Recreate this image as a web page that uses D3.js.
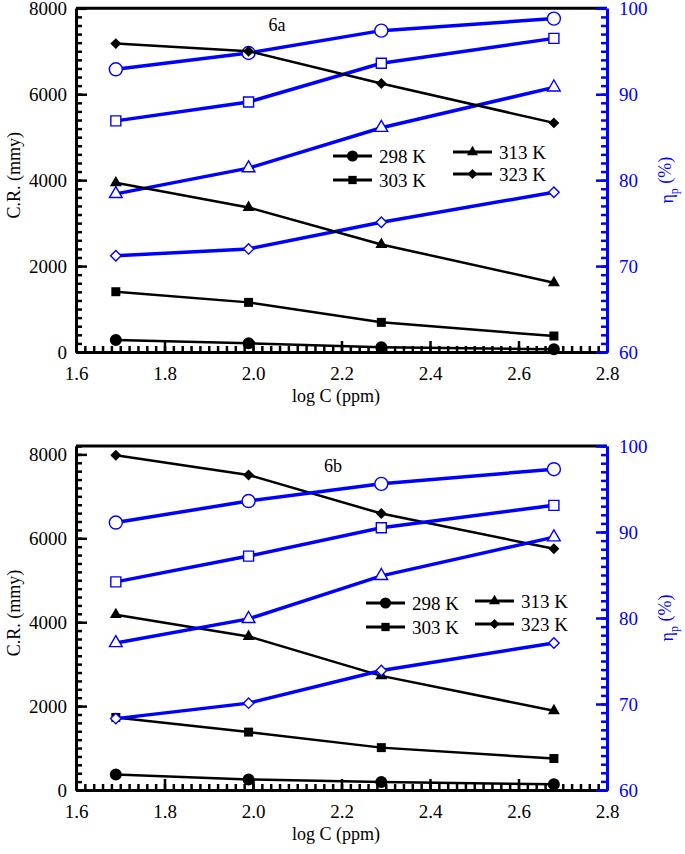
<!DOCTYPE html>
<head>
  <meta charset="utf-8">
  <style>
    body { margin: 0; background: #fff; }
    svg { display: block; }
    svg text { font-family: "Liberation Serif", "Times New Roman", "DejaVu Serif", serif !important; }
    .cr-line { fill: none; stroke: black; stroke-width: 2.5px; }
    .eta-line { fill: none; stroke: #0000ff; stroke-width: 3.5px; }
    .blk path, .blk line { stroke: black; }
    .blu path, .blu line { stroke: #0000ff; }
    .domain { stroke-width: 3px; }
    .tick line { stroke-width: 2.5px; }
    .tick text { font-size: 19px; }
  </style>
</head>

<body>
  <svg width="685" height="854"></svg>
  <script src="https://d3js.org/d3.v7.min.js"></script>
  <script type="text/javascript">
    // x positions of the points (log C)
    const logC = [1.69, 1.99, 2.29, 2.68];
    const temps = ["298 K", "303 K", "313 K", "323 K"];

    // 6a : corrosion rate (mmy) and efficiency (%), one row per temperature
    const crA = [
      [279, 202, 108, 62],
      [1403, 1155, 690, 372],
      [3938, 3364, 2504, 1612],
      [7178, 7000, 6248, 5333]
    ];
    const etaA = [
      [92.9, 94.8, 97.4, 98.8],
      [86.9, 89.1, 93.6, 96.5],
      [78.4, 81.4, 86.1, 90.8],
      [71.2, 72.0, 75.1, 78.6]
    ];

    // 6b
    const crB = [
      [370, 250, 190, 135],
      [1730, 1380, 1010, 750],
      [4180, 3660, 2720, 1890],
      [7980, 7510, 6590, 5750]
    ];
    const etaB = [
      [91.1, 93.6, 95.6, 97.3],
      [84.2, 87.2, 90.5, 93.1],
      [77.1, 79.9, 84.9, 89.4],
      [68.3, 70.1, 73.9, 77.1]
    ];

    const xTicks = [1.6, 1.8, 2.0, 2.2, 2.4, 2.6, 2.8];
    const crTicks = [0, 2000, 4000, 6000, 8000];
    const etaTicks = [60, 70, 80, 90, 100];

    const blue = '#0000ff';
    const serif = '"Liberation Serif", "Times New Roman", serif';
    const svg = d3.select('svg');

    // square diamond (equal diagonals)
    const diamond = {
      draw: function(ctx, size) {
        let r = Math.sqrt(size / 2);
        ctx.moveTo(0, -r); ctx.lineTo(r, 0); ctx.lineTo(0, r); ctx.lineTo(-r, 0); ctx.closePath();
      }
    };
    const shapes = [d3.symbolCircle, d3.symbolSquare, d3.symbolTriangle, diamond];
    const fillSizes = [113, 81, 62, 60];
    const openSizes = [133, 100, 70, 55];

    function fixFont(a) {
      a.attr('font-family', serif);
      a.selectAll('text').attr('font-family', serif);
    }

    function drawPanel(p) {
      let g = svg.append('g');
      let x = d3.scaleLinear().domain([1.6, 2.8]).range([76, 607]);
      let yL = d3.scaleLinear().domain([0, p.crMax]).range([p.bottom, p.top]);
      let yR = d3.scaleLinear().domain([60, 100]).range([p.bottom, p.top]);

      // top frame
      g.append('line')
        .attr('x1', x(1.6)).attr('x2', x(2.8))
        .attr('y1', p.top).attr('y2', p.top)
        .attr('stroke', 'black').attr('stroke-width', 3);

      // bottom axis
      g.append('g').classed('blk', true)
        .attr('transform', 'translate(0,' + p.bottom + ')')
        .call(d3.axisBottom(x).tickValues(d3.range(1.6, 2.801, 0.02)).tickSize(-6).tickSizeOuter(0).tickFormat(''));
      g.append('g').classed('blk', true)
        .attr('transform', 'translate(0,' + p.bottom + ')')
        .call(d3.axisBottom(x).tickValues(xTicks).tickSize(-11).tickSizeOuter(0).tickPadding(15).tickFormat(d3.format('.1f')))
        .call(a => a.selectAll('text').attr('fill', 'black'))
        .call(fixFont);

      // left axis
      g.append('g').classed('blk', true)
        .attr('transform', 'translate(' + x(1.6) + ',0)')
        .call(d3.axisLeft(yL).tickValues(d3.range(0, p.crMax + 1, 200)).tickSize(-6).tickSizeOuter(0).tickFormat(''));
      g.append('g').classed('blk', true)
        .attr('transform', 'translate(' + x(1.6) + ',0)')
        .call(d3.axisLeft(yL).tickValues(crTicks).tickSize(-11).tickSizeOuter(0).tickPadding(9).tickFormat(d3.format('d')))
        .call(a => a.selectAll('text').attr('fill', 'black'))
        .call(fixFont);

      let blackLayer = g.append('g');
      let blueLayer = g.append('g');
      if (!p.blueOnTop) { blackLayer.raise(); }

      let crLine = d3.line().x((d, i) => x(logC[i])).y(d => yL(d));
      let etaLine = d3.line().x((d, i) => x(logC[i])).y(d => yR(d));

      p.eta.forEach(function(row, k) {
        blueLayer.append('path').classed('eta-line', true).attr('d', etaLine(row));
        blueLayer.selectAll(null).data(row).enter().append('path')
          .attr('transform', (d, i) => 'translate(' + x(logC[i]) + ',' + yR(d) + ')')
          .attr('d', d3.symbol().type(shapes[k]).size(openSizes[k]))
          .attr('fill', 'white').attr('stroke', blue).attr('stroke-width', 1.4);
      });
      p.cr.forEach(function(row, k) {
        blackLayer.append('path').classed('cr-line', true).attr('d', crLine(row));
        blackLayer.selectAll(null).data(row).enter().append('path')
          .attr('transform', (d, i) => 'translate(' + x(logC[i]) + ',' + yL(d) + ')')
          .attr('d', d3.symbol().type(shapes[k]).size(fillSizes[k]))
          .attr('fill', 'black');
      });

      // right axis (blue)
      g.append('g').classed('blu', true)
        .attr('transform', 'translate(' + x(2.8) + ',0)')
        .call(d3.axisRight(yR).tickValues(d3.range(60, 100.1, 1)).tickSize(-6).tickSizeOuter(0).tickFormat(''));
      g.append('g').classed('blu', true)
        .attr('transform', 'translate(' + x(2.8) + ',0)')
        .call(d3.axisRight(yR).tickValues(etaTicks).tickSize(-11).tickSizeOuter(0).tickPadding(12))
        .call(a => a.selectAll('text').attr('fill', blue))
        .call(fixFont);

      // legend
      p.legend.forEach(function(l, k) {
        g.append('line').attr('x1', l[0]).attr('x2', l[0] + 39).attr('y1', l[1]).attr('y2', l[1])
          .attr('stroke', 'black').attr('stroke-width', 3);
        g.append('path').attr('transform', 'translate(' + (l[0] + 19.5) + ',' + l[1] + ')')
          .attr('d', d3.symbol().type(shapes[k]).size(fillSizes[k] * 0.85)).attr('fill', 'black');
        g.append('text').attr('x', l[0] + 46).attr('y', l[1]).attr('dy', '0.35em')
          .attr('font-family', serif).attr('font-size', 19).text(temps[k]);
      });

      // labels
      let mid = (p.top + p.bottom) / 2;
      g.append('text').attr('x', p.tag[0]).attr('y', p.tag[1]).attr('dy', '0.35em')
        .attr('text-anchor', 'middle').attr('font-family', serif).attr('font-size', 18).text(p.name);
      g.append('text').attr('transform', 'translate(14,' + (mid - 5) + ') rotate(-90)')
        .attr('dy', '0.35em').attr('text-anchor', 'middle').attr('font-family', serif)
        .attr('font-size', 18).text('C.R. (mmy)');
      let rt = g.append('text').attr('transform', 'translate(667,' + mid + ') rotate(-90)')
        .attr('dy', '0.35em').attr('text-anchor', 'middle').attr('font-family', serif)
        .attr('font-size', 18).attr('fill', blue);
      rt.append('tspan').text('η');
      rt.append('tspan').attr('font-size', 12).attr('dy', '0.35em').text('p');
      rt.append('tspan').attr('dy', '-0.35em').text(' (%)');
      g.append('text').attr('x', 336).attr('y', p.bottom + 44).attr('dy', '0.35em')
        .attr('text-anchor', 'middle').attr('font-family', serif).attr('font-size', 18).text('log C (ppm)');
    }

    drawPanel({
      name: '6a', tag: [277, 25], top: 8.3, bottom: 352, crMax: 8000,
      cr: crA, eta: etaA, blueOnTop: false,
      legend: [[333, 156], [333, 180], [453, 152], [453, 174]]
    });
    drawPanel({
      name: '6b', tag: [333, 466], top: 446, bottom: 790, crMax: 8200,
      cr: crB, eta: etaB, blueOnTop: true,
      legend: [[366, 603], [366, 627], [475, 601], [475, 624]]
    });
  </script>
</body>
